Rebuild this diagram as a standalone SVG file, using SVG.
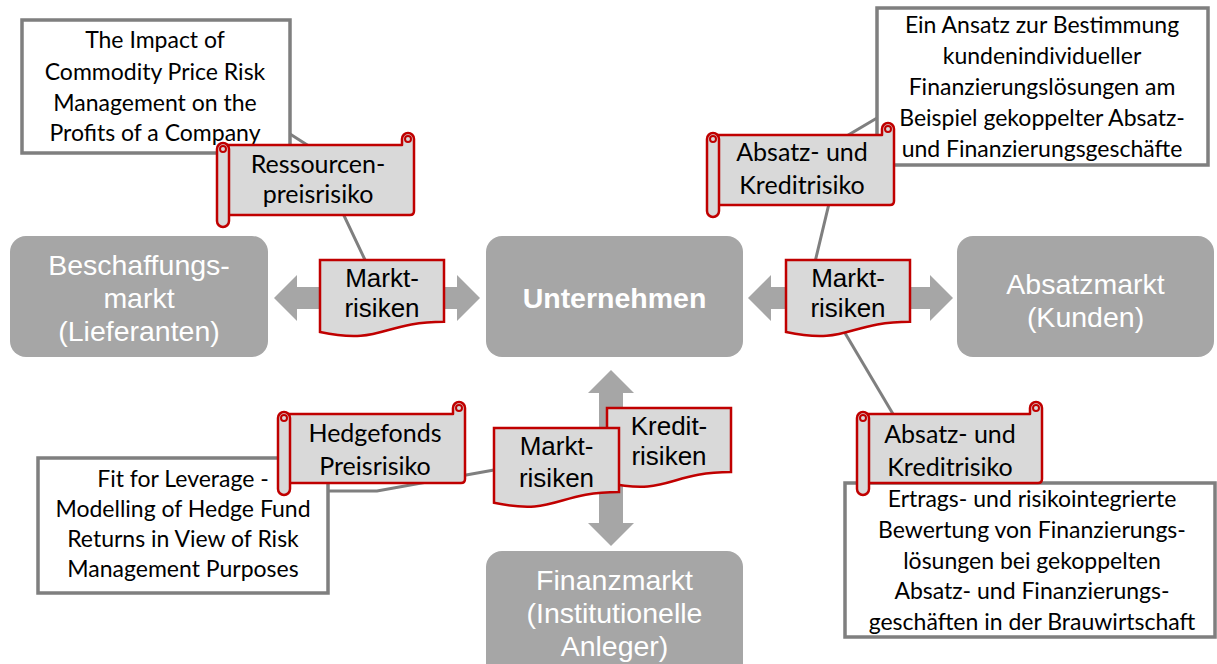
<svg xmlns="http://www.w3.org/2000/svg" width="1217" height="664" viewBox="0 0 1217 664">
<style>
.big{fill:#a6a6a6}
.bt{fill:#fff;font-family:"Liberation Sans",Arial,sans-serif;font-size:28.5px;text-anchor:middle}
.arr{fill:#a6a6a6}
.con{fill:none;stroke:#7f7f7f;stroke-width:3}
.box{fill:#fff;stroke:#7f7f7f;stroke-width:3.5}
.bx{fill:#000;font-family:Lato,"Open Sans",sans-serif;font-size:23px;text-anchor:middle}
.doc{fill:#d9d9d9;stroke:#c00000;stroke-width:2.5}
.dt{fill:#000;font-family:"Liberation Sans",Arial,sans-serif;font-size:26px;text-anchor:middle}
.scr{fill:#d9d9d9;stroke:#c00000;stroke-width:2.5;stroke-linejoin:round}
.st{fill:#000;font-family:Lato,"Open Sans",sans-serif;font-size:25px;text-anchor:middle}
</style>
<g id="connectors">
<polygon class="arr" points="274,298 297,275 297,287 457,287 457,275 480,298 457,321 457,309 297,309 297,321"/>
<polygon class="arr" points="748,298 771,275 771,287 930,287 930,275 953,298 930,321 930,309 771,309 771,321"/>
<polygon class="arr" points="611,370 634,393 623,393 623,523 634,523 611,546 588,523 599,523 599,393 588,393"/>
<polyline class="con" points="290,134 312,148 366,262"/>
<polyline class="con" points="877,118 845,137 815,262"/>
<polyline class="con" points="845,333 893,414"/>
<polyline class="con" points="328,491 377,491 494,470"/>
</g>
<g id="beschaffungsmarkt">
<rect class="big" x="10" y="236" width="258" height="121" rx="16"/>
<text class="bt" x="139" y="275">Beschaffungs-</text>
<text class="bt" x="139" y="308">markt</text>
<text class="bt" x="139" y="341">(Lieferanten)</text>
</g>
<g id="unternehmen">
<rect class="big" x="486" y="236" width="257" height="121" rx="16"/>
<text class="bt" x="614.5" y="308" font-weight="bold">Unternehmen</text>
</g>
<g id="absatzmarkt">
<rect class="big" x="957" y="236" width="257" height="121" rx="16"/>
<text class="bt" x="1085.5" y="294">Absatzmarkt</text>
<text class="bt" x="1085.5" y="327">(Kunden)</text>
</g>
<g id="finanzmarkt">
<rect class="big" x="486" y="551" width="257" height="130" rx="16"/>
<text class="bt" x="614.5" y="590">Finanzmarkt</text>
<text class="bt" x="614.5" y="623">(Institutionelle</text>
<text class="bt" x="614.5" y="656">Anleger)</text>
</g>
<g id="box-commodity">
<rect class="box" x="22" y="20" width="268" height="133"/>
<text class="bx" x="155" y="48">The Impact of</text>
<text class="bx" x="155" y="80">Commodity Price Risk</text>
<text class="bx" x="155" y="111">Management on the</text>
<text class="bx" x="155" y="141">Profits of a Company</text>
</g>
<g id="box-ansatz">
<rect class="box" x="877" y="8" width="331" height="157"/>
<text class="bx" x="1042" y="33">Ein Ansatz zur Bestimmung</text>
<text class="bx" x="1042" y="64">kundenindividueller</text>
<text class="bx" x="1042" y="95">Finanzierungslösungen am</text>
<text class="bx" x="1042" y="126">Beispiel gekoppelter Absatz-</text>
<text class="bx" x="1042" y="157">und Finanzierungsgeschäfte</text>
</g>
<g id="box-hedge">
<rect class="box" x="38" y="458" width="290" height="135"/>
<text class="bx" x="183" y="487">Fit for Leverage -</text>
<text class="bx" x="183" y="517">Modelling of Hedge Fund</text>
<text class="bx" x="183" y="547">Returns in View of Risk</text>
<text class="bx" x="183" y="577">Management Purposes</text>
</g>
<g id="box-ertrag">
<rect class="box" x="845" y="483" width="370" height="154"/>
<text class="bx" x="1032" y="507">Ertrags- und risikointegrierte</text>
<text class="bx" x="1032" y="538">Bewertung von Finanzierungs-</text>
<text class="bx" x="1032" y="569">lösungen bei gekoppelten</text>
<text class="bx" x="1032" y="599">Absatz- und Finanzierungs-</text>
<text class="bx" x="1032" y="630">geschäften in der Brauwirtschaft</text>
</g>
<g id="markt-left">
<path class="doc" d="M320,260 H444 V321.8 C382,321.8 382,345.3 320,332 Z"/>
<text class="dt" x="382" y="287">Markt-</text>
<text class="dt" x="382" y="317">risiken</text>
</g>
<g id="markt-right">
<path class="doc" d="M786,260 H910 V321.8 C848,321.8 848,345.3 786,332 Z"/>
<text class="dt" x="848" y="287">Markt-</text>
<text class="dt" x="848" y="317">risiken</text>
</g>
<g id="kredit">
<path class="doc" d="M607,408 H731 V472 C669,472 669,496 607,482.7 Z"/>
<text class="dt" x="669" y="435">Kredit-</text>
<text class="dt" x="669" y="465">risiken</text>
</g>
<g id="markt-bottom">
<path class="doc" d="M494,428 H619 V492 C556,492 556,516 494,502.7 Z"/>
<text class="dt" x="556.5" y="455">Markt-</text>
<text class="dt" x="556.5" y="487">risiken</text>
</g>
<g id="scroll-ressourcen">
<path class="scr" d="M223,145 H402 V139 A6,6 0 0 1 414,139 V211 Q414,215 410,215 H223 Z"/>
<circle cx="408" cy="139" r="3" fill="none" stroke="#c00000" stroke-width="2"/>
<rect class="scr" x="217" y="143" width="12" height="84" rx="6"/>
<circle cx="223" cy="149" r="3" fill="none" stroke="#c00000" stroke-width="2"/>
<text class="st" x="318" y="173">Ressourcen-</text>
<text class="st" x="318" y="203">preisrisiko</text>
</g>
<g id="scroll-absatz-top">
<path class="scr" d="M713,135 H882 V129 A6,6 0 0 1 894,129 V201 Q894,205 890,205 H713 Z"/>
<circle cx="888" cy="129" r="3" fill="none" stroke="#c00000" stroke-width="2"/>
<rect class="scr" x="707" y="133" width="12" height="84" rx="6"/>
<circle cx="713" cy="139" r="3" fill="none" stroke="#c00000" stroke-width="2"/>
<text class="st" x="802" y="161">Absatz- und</text>
<text class="st" x="802" y="194">Kreditrisiko</text>
</g>
<g id="scroll-hedgefonds">
<path class="scr" d="M284,414 H453 V408 A6,6 0 0 1 465,408 V479 Q465,483 461,483 H284 Z"/>
<circle cx="459" cy="408" r="3" fill="none" stroke="#c00000" stroke-width="2"/>
<rect class="scr" x="278" y="412" width="12" height="83" rx="6"/>
<circle cx="284" cy="418" r="3" fill="none" stroke="#c00000" stroke-width="2"/>
<text class="st" x="375" y="442">Hedgefonds</text>
<text class="st" x="375" y="475">Preisrisiko</text>
</g>
<g id="scroll-absatz-bottom">
<path class="scr" d="M863,414 H1030 V408 A6,6 0 0 1 1042,408 V479 Q1042,483 1038,483 H863 Z"/>
<circle cx="1036" cy="408" r="3" fill="none" stroke="#c00000" stroke-width="2"/>
<rect class="scr" x="857" y="412" width="12" height="83" rx="6"/>
<circle cx="863" cy="418" r="3" fill="none" stroke="#c00000" stroke-width="2"/>
<text class="st" x="950" y="443">Absatz- und</text>
<text class="st" x="950" y="476">Kreditrisiko</text>
</g>
</svg>
